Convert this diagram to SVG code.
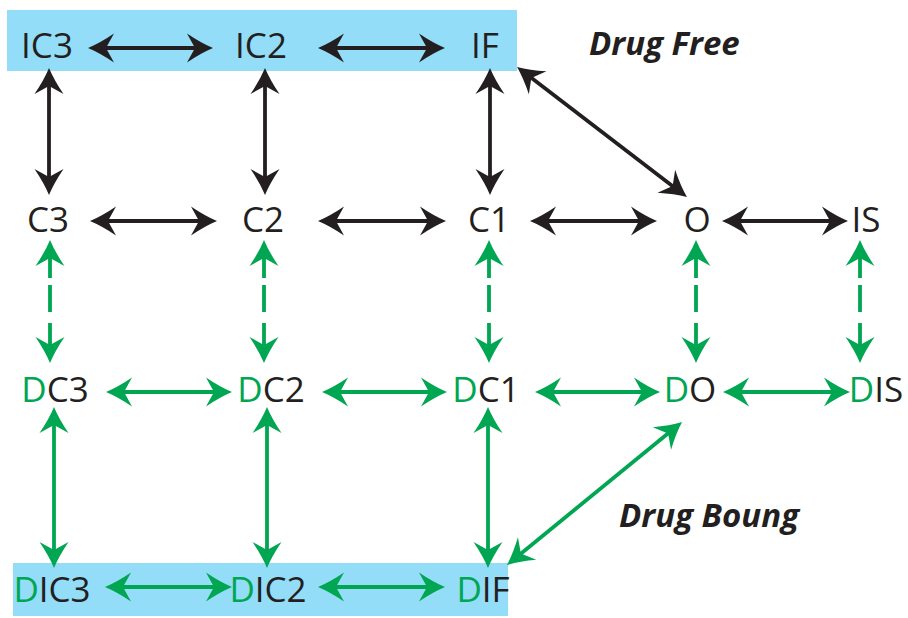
<svg xmlns="http://www.w3.org/2000/svg" width="908" height="618" viewBox="0 0 908 618">
<style>
.lbl{font-family:"Open Sans","Noto Sans","Liberation Sans",sans-serif;font-size:35px;fill:#231F20;text-anchor:middle}
.d{fill:#00A651}
.title{font-family:"Open Sans","Noto Sans","Liberation Sans",sans-serif;font-size:33px;font-weight:bold;font-style:italic;fill:#231F20}
.k{stroke:#231F20;stroke-width:3.8;fill:none;marker-start:url(#hk);marker-end:url(#hk)}
.g{stroke:#00A651;stroke-width:3.8;fill:none;marker-start:url(#hg);marker-end:url(#hg)}
.dash{stroke-dasharray:32 7 27 11 80}
.band{fill:#93DDF8}
</style>
<defs>
<marker id="hk" markerUnits="userSpaceOnUse" orient="auto-start-reverse" refX="0" refY="0" markerWidth="40" markerHeight="40" overflow="visible">
<path d="M6,0 Q-6,-5 -20,-14.5 L-12,0 L-20,14.5 Q-6,5 6,0 Z" fill="#231F20"/>
</marker>
<marker id="hg" markerUnits="userSpaceOnUse" orient="auto-start-reverse" refX="0" refY="0" markerWidth="40" markerHeight="40" overflow="visible">
<path d="M6,0 Q-6,-5 -20,-14.5 L-12,0 L-20,14.5 Q-6,5 6,0 Z" fill="#00A651"/>
</marker>
</defs>

<rect class="band" x="7" y="10" width="510" height="61"/>
<rect class="band" x="13" y="563" width="495" height="53"/>

<g id="connectors">
<line class="k" x1="94" y1="48" x2="207" y2="48"/>
<line class="k" x1="324" y1="48" x2="439" y2="48"/>
<line class="k" x1="49" y1="74" x2="49" y2="189"/>
<line class="k" x1="265" y1="74" x2="265" y2="189"/>
<line class="k" x1="490" y1="74" x2="490" y2="189"/>
<line class="k" x1="521.8" y1="70.6" x2="682.2" y2="193.4"/>
<line class="k" x1="96" y1="221" x2="211" y2="221"/>
<line class="k" x1="324" y1="221" x2="440" y2="221"/>
<line class="k" x1="536" y1="221" x2="651" y2="221"/>
<line class="k" x1="728" y1="221" x2="842" y2="221"/>
<line class="g dash" x1="50" y1="246" x2="50" y2="357"/>
<line class="g dash" x1="264" y1="246" x2="264" y2="357"/>
<line class="g dash" x1="489" y1="246" x2="489" y2="357"/>
<line class="g dash" x1="696" y1="246" x2="696" y2="357"/>
<line class="g dash" x1="860" y1="246" x2="860" y2="357"/>
<line class="g" x1="112" y1="392" x2="226" y2="392"/>
<line class="g" x1="328" y1="392" x2="441" y2="392"/>
<line class="g" x1="541" y1="392" x2="654" y2="392"/>
<line class="g" x1="729" y1="392" x2="844" y2="392"/>
<line class="g" x1="54" y1="413" x2="54" y2="562"/>
<line class="g" x1="267" y1="413" x2="267" y2="562"/>
<line class="g" x1="488" y1="413" x2="488" y2="562"/>
<line class="g" x1="677.4" y1="425.8" x2="511.6" y2="561.2"/>
<line class="g" x1="111" y1="587" x2="226" y2="587"/>
<line class="g" x1="324" y1="587" x2="439" y2="587"/>
</g>

<g id="IC3"><text class="lbl" x="47" y="58">IC3</text></g>
<g id="IC2"><text class="lbl" x="261" y="58">IC2</text></g>
<g id="IF"><text class="lbl" x="485" y="58">IF</text></g>

<g id="C3"><text class="lbl" x="48" y="232">C3</text></g>
<g id="C2"><text class="lbl" x="263" y="232">C2</text></g>
<g id="C1"><text class="lbl" x="489" y="232">C1</text></g>
<g id="O"><text class="lbl" x="697" y="232">O</text></g>
<g id="IS"><text class="lbl" x="866" y="232">IS</text></g>

<g id="DC3"><text class="lbl" x="55" y="402"><tspan class="d">D</tspan>C3</text></g>
<g id="DC2"><text class="lbl" x="271" y="402"><tspan class="d">D</tspan>C2</text></g>
<g id="DC1"><text class="lbl" x="486" y="402"><tspan class="d">D</tspan>C1</text></g>
<g id="DO"><text class="lbl" x="690" y="402"><tspan class="d">D</tspan>O</text></g>
<g id="DIS"><text class="lbl" x="876" y="402"><tspan class="d">D</tspan>IS</text></g>

<g id="DIC3"><text class="lbl" x="52" y="602"><tspan class="d">D</tspan>IC3</text></g>
<g id="DIC2"><text class="lbl" x="268" y="602"><tspan class="d">D</tspan>IC2</text></g>
<g id="DIF"><text class="lbl" x="483" y="602"><tspan class="d">D</tspan>IF</text></g>

<g id="drug-free"><text class="title" x="589" y="55">Drug Free</text></g>
<g id="drug-boung"><text class="title" x="619" y="527">Drug Boung</text></g>
</svg>
